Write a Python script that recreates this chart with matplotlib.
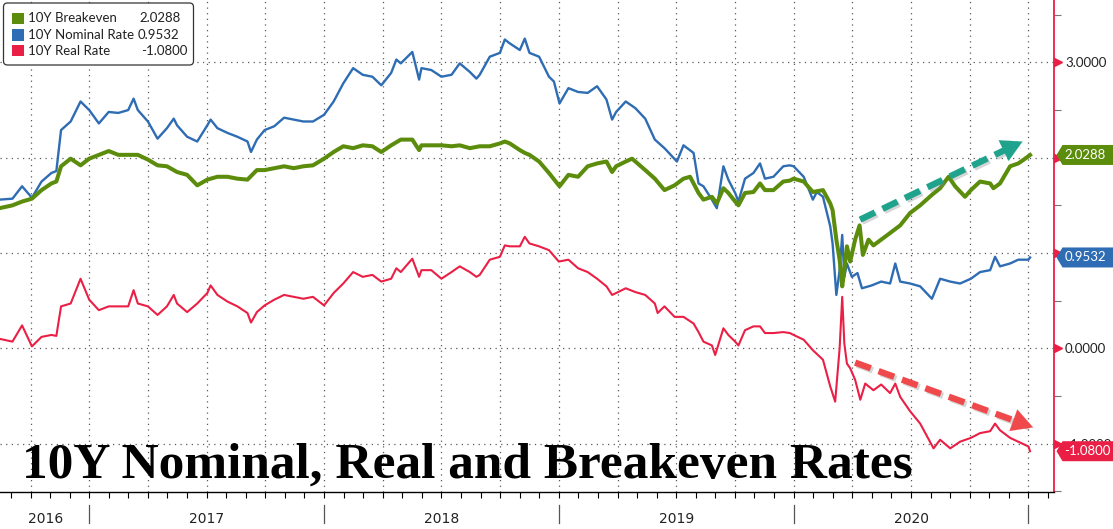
import matplotlib
matplotlib.use("Agg")
import matplotlib.pyplot as plt
import matplotlib.patheffects as pe
from matplotlib.patches import Polygon, FancyBboxPatch, Rectangle
from matplotlib.transforms import blended_transform_factory, IdentityTransform, ScaledTranslation
from matplotlib.ticker import FuncFormatter
from matplotlib import font_manager as fm

plt.rcParams["axes.unicode_minus"] = False

# ---------------- data (time in decimal years) ----------------
nom_t = [2016.617, 2016.673, 2016.714, 2016.756, 2016.797, 2016.839, 2016.860, 2016.880, 2016.921, 2016.963,
         2017.000, 2017.041, 2017.083, 2017.124, 2017.166, 2017.189, 2017.207, 2017.250, 2017.291, 2017.331,
         2017.360, 2017.374, 2017.417, 2017.460, 2017.503, 2017.517, 2017.546, 2017.589, 2017.631, 2017.674,
         2017.689, 2017.714, 2017.747, 2017.788, 2017.830, 2017.871, 2017.912, 2017.953, 2018.000, 2018.041,
         2018.082, 2018.124, 2018.165, 2018.206, 2018.244, 2018.286, 2018.308, 2018.327, 2018.376, 2018.405,
         2018.415, 2018.457, 2018.500, 2018.543, 2018.578, 2018.621, 2018.649, 2018.663, 2018.706, 2018.749,
         2018.770, 2018.791, 2018.834, 2018.855, 2018.875, 2018.916, 2018.958, 2018.979, 2019.003, 2019.041,
         2019.082, 2019.123, 2019.163, 2019.203, 2019.227, 2019.244, 2019.285, 2019.326, 2019.368, 2019.409,
         2019.450, 2019.503, 2019.531, 2019.574, 2019.595, 2019.616, 2019.652, 2019.673, 2019.701, 2019.722,
         2019.751, 2019.765, 2019.793, 2019.829, 2019.857, 2019.878, 2019.914, 2019.956, 2019.984, 2020.000,
         2020.043, 2020.082, 2020.099, 2020.125, 2020.156, 2020.166, 2020.182, 2020.196, 2020.207, 2020.216,
         2020.227, 2020.248, 2020.272, 2020.291, 2020.333, 2020.373, 2020.411, 2020.433, 2020.454, 2020.496,
         2020.539, 2020.589, 2020.624, 2020.667, 2020.709, 2020.755, 2020.794, 2020.837, 2020.858, 2020.879,
         2020.922, 2020.957, 2021.000, 2021.007]
nom_v = [1.56, 1.57, 1.70, 1.58, 1.75, 1.84, 1.86, 2.29, 2.38, 2.59,
         2.50, 2.36, 2.48, 2.47, 2.50, 2.62, 2.50, 2.38, 2.20, 2.31,
         2.41, 2.34, 2.22, 2.17, 2.34, 2.40, 2.31, 2.26, 2.22, 2.17,
         2.06, 2.19, 2.29, 2.33, 2.42, 2.40, 2.38, 2.38, 2.45, 2.59,
         2.78, 2.94, 2.87, 2.85, 2.76, 2.89, 3.03, 2.99, 3.11, 2.82,
         2.94, 2.92, 2.85, 2.87, 2.99, 2.90, 2.83, 2.87, 3.06, 3.10,
         3.24, 3.20, 3.13, 3.25, 3.10, 3.06, 2.85, 2.80, 2.57, 2.73,
         2.69, 2.68, 2.75, 2.61, 2.40, 2.48, 2.59, 2.52, 2.41, 2.19,
         2.10, 1.96, 2.13, 2.05, 1.73, 1.70, 1.56, 1.47, 1.91, 1.77,
         1.63, 1.54, 1.78, 1.84, 1.94, 1.78, 1.80, 1.91, 1.92, 1.91,
         1.80, 1.56, 1.64, 1.59, 1.28, 1.10, 0.56, 0.82, 1.19, 0.75,
         0.89, 0.75, 0.79, 0.63, 0.66, 0.70, 0.68, 0.89, 0.70, 0.68,
         0.65, 0.52, 0.73, 0.70, 0.68, 0.73, 0.80, 0.82, 0.96, 0.86,
         0.89, 0.93, 0.93, 0.9532]

be_t = [2016.617, 2016.673, 2016.714, 2016.756, 2016.797, 2016.839, 2016.860, 2016.880, 2016.921, 2016.963,
        2017.000, 2017.041, 2017.083, 2017.124, 2017.166, 2017.207, 2017.250, 2017.291, 2017.331, 2017.374,
        2017.417, 2017.460, 2017.503, 2017.546, 2017.589, 2017.631, 2017.674, 2017.714, 2017.747, 2017.788,
        2017.830, 2017.871, 2017.912, 2017.953, 2018.000, 2018.041, 2018.082, 2018.124, 2018.165, 2018.206,
        2018.244, 2018.286, 2018.327, 2018.376, 2018.405, 2018.415, 2018.457, 2018.500, 2018.543, 2018.578,
        2018.621, 2018.663, 2018.706, 2018.749, 2018.770, 2018.791, 2018.834, 2018.855, 2018.875, 2018.916,
        2018.958, 2019.003, 2019.041, 2019.082, 2019.123, 2019.163, 2019.203, 2019.227, 2019.244, 2019.285,
        2019.312, 2019.326, 2019.368, 2019.409, 2019.450, 2019.493, 2019.531, 2019.559, 2019.595, 2019.616,
        2019.652, 2019.673, 2019.701, 2019.722, 2019.751, 2019.765, 2019.793, 2019.829, 2019.857, 2019.878,
        2019.914, 2019.956, 2019.984, 2020.000, 2020.043, 2020.082, 2020.125, 2020.156, 2020.166, 2020.182,
        2020.196, 2020.207, 2020.216, 2020.227, 2020.241, 2020.262, 2020.281, 2020.295, 2020.319, 2020.340,
        2020.373, 2020.411, 2020.454, 2020.496, 2020.539, 2020.589, 2020.624, 2020.660, 2020.688, 2020.730,
        2020.755, 2020.794, 2020.837, 2020.851, 2020.879, 2020.922, 2020.957, 2020.986, 2021.007]
be_v = [1.47, 1.50, 1.54, 1.57, 1.66, 1.73, 1.75, 1.91, 1.99, 1.92,
        1.99, 2.03, 2.07, 2.03, 2.03, 2.03, 1.98, 1.92, 1.91, 1.85,
        1.82, 1.71, 1.77, 1.80, 1.80, 1.78, 1.77, 1.87, 1.87, 1.89,
        1.91, 1.89, 1.91, 1.92, 1.99, 2.06, 2.12, 2.10, 2.13, 2.12,
        2.06, 2.13, 2.19, 2.19, 2.08, 2.13, 2.13, 2.13, 2.12, 2.13,
        2.10, 2.12, 2.12, 2.15, 2.17, 2.15, 2.08, 2.05, 2.03, 1.96,
        1.84, 1.70, 1.82, 1.80, 1.91, 1.94, 1.96, 1.85, 1.91, 1.96,
        1.99, 1.96, 1.87, 1.78, 1.66, 1.71, 1.78, 1.80, 1.63, 1.56,
        1.59, 1.52, 1.68, 1.63, 1.54, 1.50, 1.63, 1.64, 1.73, 1.66,
        1.66, 1.75, 1.76, 1.78, 1.75, 1.64, 1.66, 1.52, 1.45, 1.14,
        0.93, 0.65, 0.82, 1.07, 0.91, 1.14, 1.29, 0.98, 1.14, 1.08,
        1.14, 1.21, 1.29, 1.42, 1.50, 1.61, 1.68, 1.80, 1.70, 1.59,
        1.66, 1.75, 1.73, 1.68, 1.73, 1.91, 1.94, 1.99, 2.0288]

real_t = [2016.617, 2016.673, 2016.714, 2016.756, 2016.797, 2016.839, 2016.860, 2016.880, 2016.921, 2016.963,
          2017.000, 2017.041, 2017.083, 2017.124, 2017.166, 2017.189, 2017.207, 2017.250, 2017.291, 2017.331,
          2017.360, 2017.374, 2017.417, 2017.460, 2017.503, 2017.517, 2017.546, 2017.589, 2017.631, 2017.674,
          2017.689, 2017.714, 2017.747, 2017.788, 2017.830, 2017.871, 2017.912, 2017.953, 2018.000, 2018.041,
          2018.082, 2018.124, 2018.165, 2018.206, 2018.244, 2018.286, 2018.308, 2018.327, 2018.376, 2018.405,
          2018.415, 2018.457, 2018.500, 2018.543, 2018.578, 2018.621, 2018.649, 2018.663, 2018.706, 2018.749,
          2018.770, 2018.791, 2018.834, 2018.855, 2018.875, 2018.916, 2018.958, 2019.000, 2019.041, 2019.082,
          2019.123, 2019.163, 2019.203, 2019.227, 2019.244, 2019.285, 2019.326, 2019.368, 2019.409, 2019.421,
          2019.450, 2019.493, 2019.531, 2019.574, 2019.595, 2019.616, 2019.652, 2019.666, 2019.701, 2019.722,
          2019.751, 2019.765, 2019.793, 2019.829, 2019.857, 2019.878, 2019.914, 2019.956, 2019.984, 2020.000,
          2020.043, 2020.082, 2020.125, 2020.156, 2020.177, 2020.196, 2020.207, 2020.216, 2020.227, 2020.241,
          2020.262, 2020.284, 2020.305, 2020.340, 2020.373, 2020.411, 2020.433, 2020.454, 2020.496, 2020.539,
          2020.596, 2020.624, 2020.667, 2020.709, 2020.755, 2020.794, 2020.837, 2020.858, 2020.879, 2020.922,
          2020.957, 2021.000, 2021.007]
real_v = [0.10, 0.07, 0.24, 0.02, 0.12, 0.14, 0.13, 0.44, 0.47, 0.73,
          0.51, 0.40, 0.44, 0.44, 0.44, 0.61, 0.47, 0.44, 0.35, 0.44,
          0.56, 0.47, 0.38, 0.47, 0.58, 0.66, 0.56, 0.49, 0.44, 0.37,
          0.27, 0.38, 0.45, 0.51, 0.56, 0.54, 0.52, 0.54, 0.45, 0.58,
          0.68, 0.80, 0.75, 0.77, 0.70, 0.73, 0.84, 0.80, 0.94, 0.75,
          0.82, 0.82, 0.73, 0.80, 0.86, 0.80, 0.75, 0.77, 0.93, 0.96,
          1.08, 1.07, 1.07, 1.17, 1.10, 1.07, 1.03, 0.91, 0.93, 0.84,
          0.80, 0.73, 0.65, 0.56, 0.58, 0.63, 0.59, 0.56, 0.47, 0.37,
          0.44, 0.33, 0.33, 0.26, 0.17, 0.07, 0.03, -0.07, 0.21, 0.14,
          0.07, 0.03, 0.19, 0.23, 0.23, 0.16, 0.16, 0.17, 0.16, 0.14,
          0.09, -0.02, -0.12, -0.40, -0.56, 0.00, 0.54, 0.05, -0.16, -0.21,
          -0.33, -0.54, -0.37, -0.44, -0.38, -0.47, -0.37, -0.51, -0.66, -0.79,
          -1.05, -0.96, -1.05, -0.98, -0.94, -0.89, -0.87, -0.79, -0.86, -0.94,
          -0.98, -1.03, -1.08]

series_names = ["10Y Breakeven", "10Y Nominal Rate", "10Y Real Rate"]
last_values = [2.0288, 0.9532, -1.0800]
year_labels = ["2016", "2017", "2018", "2019", "2020"]
year_label_pos = [2016.816, 2017.5, 2018.5, 2019.5, 2020.5]
year_breaks = [2017, 2018, 2019, 2020, 2021]
y_major = [-1, 0, 1, 2, 3]
y_hidden_labels = [1, 2]   # covered by the value tags in the original
title = "10Y Nominal, Real and Breakeven Rates"

# ---------------- style ----------------
GREEN = "#5b8c0c"
BLUE = "#2e6cb3"
RED = "#ea1f45"
TEAL = "#1fa38c"
ARROW_RED = "#f0494b"
GRID = "#5a5a5a"

names = {f.name for f in fm.fontManager.ttflist}
UI_FONT = "Lato" if "Lato" in names else "DejaVu Sans"
NARROW = "Liberation Sans Narrow" if "Liberation Sans Narrow" in names else "DejaVu Sans"

W, H = 1113, 529
fig = plt.figure(figsize=(W / 100, H / 100), dpi=100)
fig.patch.set_facecolor("white")
ax = fig.add_axes([0, 37 / H, 1054 / W, 492 / H])
ax.set_xlim(2016.620, 2021.109)
ax.set_ylim(-1.508, 3.655)

# series
ax.plot(nom_t, nom_v, color=BLUE, lw=1.7, zorder=3, solid_joinstyle="round")
ax.plot(be_t, be_v, color=GREEN, lw=2.9, zorder=4, solid_joinstyle="round")
ax.plot(real_t, real_v, color=RED, lw=1.5, zorder=5, solid_joinstyle="round")

# spines
for s in ["top", "left"]:
    ax.spines[s].set_visible(False)
ax.spines["bottom"].set_color("black")
ax.spines["bottom"].set_linewidth(1.0)
ax.spines["right"].set_color(RED)
ax.spines["right"].set_linewidth(1.3)

# y axis on right
ax.yaxis.tick_right()
ax.set_yticks(y_major)
ax.set_yticks([-1.5, -0.5, 0.5, 1.5, 2.5, 3.5], minor=True)
ax.yaxis.set_major_formatter(FuncFormatter(
    lambda v, p: "" if any(abs(v - h) < 1e-9 for h in y_hidden_labels) else f"{v:.4f}"))
ax.tick_params(axis="y", which="major", length=0, pad=8, labelsize=9.5, labelcolor="#222222")
ax.tick_params(axis="y", which="minor", length=5, width=0.8, color="#777777", direction="out")
for lab in ax.get_yticklabels():
    lab.set_fontfamily(UI_FONT)

# red triangles at major ticks
tri_tr = blended_transform_factory(ax.transAxes, ax.transData) + ScaledTranslation(4 / 100, 0, fig.dpi_scale_trans)
ax.plot([1.0] * len(y_major), y_major, ls="none", marker=">", ms=6, color=RED,
        transform=tri_tr, clip_on=False, zorder=6)

# x axis: quarters (grid) and months (ticks)
quarters = [y + q / 4 for y in range(2016, 2022) for q in range(4)]
quarters = [q for q in quarters if 2016.62 < q < 2021.1]
months = [y + m / 12 for y in range(2016, 2022) for m in range(12)]
months = [m for m in months if 2016.62 < m < 2021.1]
ax.set_xticks(quarters)
ax.set_xticks(months, minor=True)
ax.set_xticklabels([])
ax.tick_params(axis="x", which="both", length=4, width=0.8, color="black", direction="out")

ax.grid(True, which="major", color=GRID, ls=(0, (1, 3.5)), lw=0.9)
ax.set_axisbelow(True)

# year separators & labels
xt = blended_transform_factory(ax.transData, ax.transAxes)
for yb in year_breaks:
    ax.plot([yb, yb], [-0.027, -0.064], color="#555555", lw=0.9, transform=xt, clip_on=False)
for lab, pos in zip(year_labels, year_label_pos):
    ax.text(pos, -0.054, lab, transform=xt, ha="center", va="center", fontsize=10,
            family=NARROW, color="#222222", clip_on=False)

# dashed arrows
shadow = [pe.SimpleLineShadow(offset=(1.5, -1.5), shadow_color="#888888", alpha=0.35), pe.Normal()]


def dashed_arrow(x0, y0, x1, y1, color):
    ax.plot([x0, x0 + 0.97 * (x1 - x0)], [y0, y0 + 0.97 * (y1 - y0)], color=color, lw=4.6,
            ls=(0, (2.6, 1.3)), solid_capstyle="butt", dash_capstyle="butt", zorder=7,
            path_effects=shadow)
    ax.annotate("", xy=(x1, y1), xytext=(x0 + 0.9 * (x1 - x0), y0 + 0.9 * (y1 - y0)),
                arrowprops=dict(arrowstyle="-|>,head_length=1.0,head_width=0.55", color=color,
                                lw=0.1, mutation_scale=15, shrinkA=0, shrinkB=0),
                zorder=8)


dashed_arrow(2020.283, 1.35, 2020.975, 2.17, TEAL)
dashed_arrow(2020.262, -0.15, 2021.020, -0.83, ARROW_RED)

# value tags on right axis
tag_colors = [GREEN, BLUE, RED]
for val, col in zip(last_values, tag_colors):
    _, yc = ax.transData.transform((2021.109, val))
    xr = 1054.5
    h = 10
    poly = Polygon([(xr + 2, yc), (xr + 8, yc - h), (W, yc - h), (W, yc + h), (xr + 8, yc + h)],
                   closed=True, facecolor=col, edgecolor="none", transform=IdentityTransform(), zorder=20)
    fig.add_artist(poly)
    fig.text(xr + 10, yc, f"{val:.4f}", transform=IdentityTransform(), color="white", fontsize=9.5,
             family=UI_FONT, va="center", ha="left", zorder=21)

# legend box
def px(x, y):
    return x, H - y

leg = FancyBboxPatch(px(3.5, 65), 190, 62, boxstyle="round,pad=0,rounding_size=4",
                     facecolor="white", edgecolor="#333333", lw=0.9, transform=IdentityTransform(), zorder=20)
fig.add_artist(leg)
rows_y = [18.3, 35.0, 50.7]
val_x = [139, 138, 141]
for name, val, col, ry, vx in zip(series_names, last_values, tag_colors, rows_y, val_x):
    sq = Rectangle(px(12, ry + 5.7), 11.5, 11.5, facecolor=col, edgecolor="none",
                   transform=IdentityTransform(), zorder=21)
    fig.add_artist(sq)
    fig.text(*px(28.5, ry), name, transform=IdentityTransform(), fontsize=9.5, family=UI_FONT,
             color="#222222", va="center", ha="left", zorder=22)
    fig.text(*px(vx, ry), f"{val:.4f}", transform=IdentityTransform(), fontsize=9.5, family=UI_FONT,
             color="#222222", va="center", ha="left", zorder=22)

# title
fig.text(22 / W, (H - 478) / H, title, fontsize=37, family="Liberation Serif", weight="bold",
         color="black", ha="left", va="baseline", zorder=25)

fig.savefig("out.png", dpi=100, facecolor="white")
